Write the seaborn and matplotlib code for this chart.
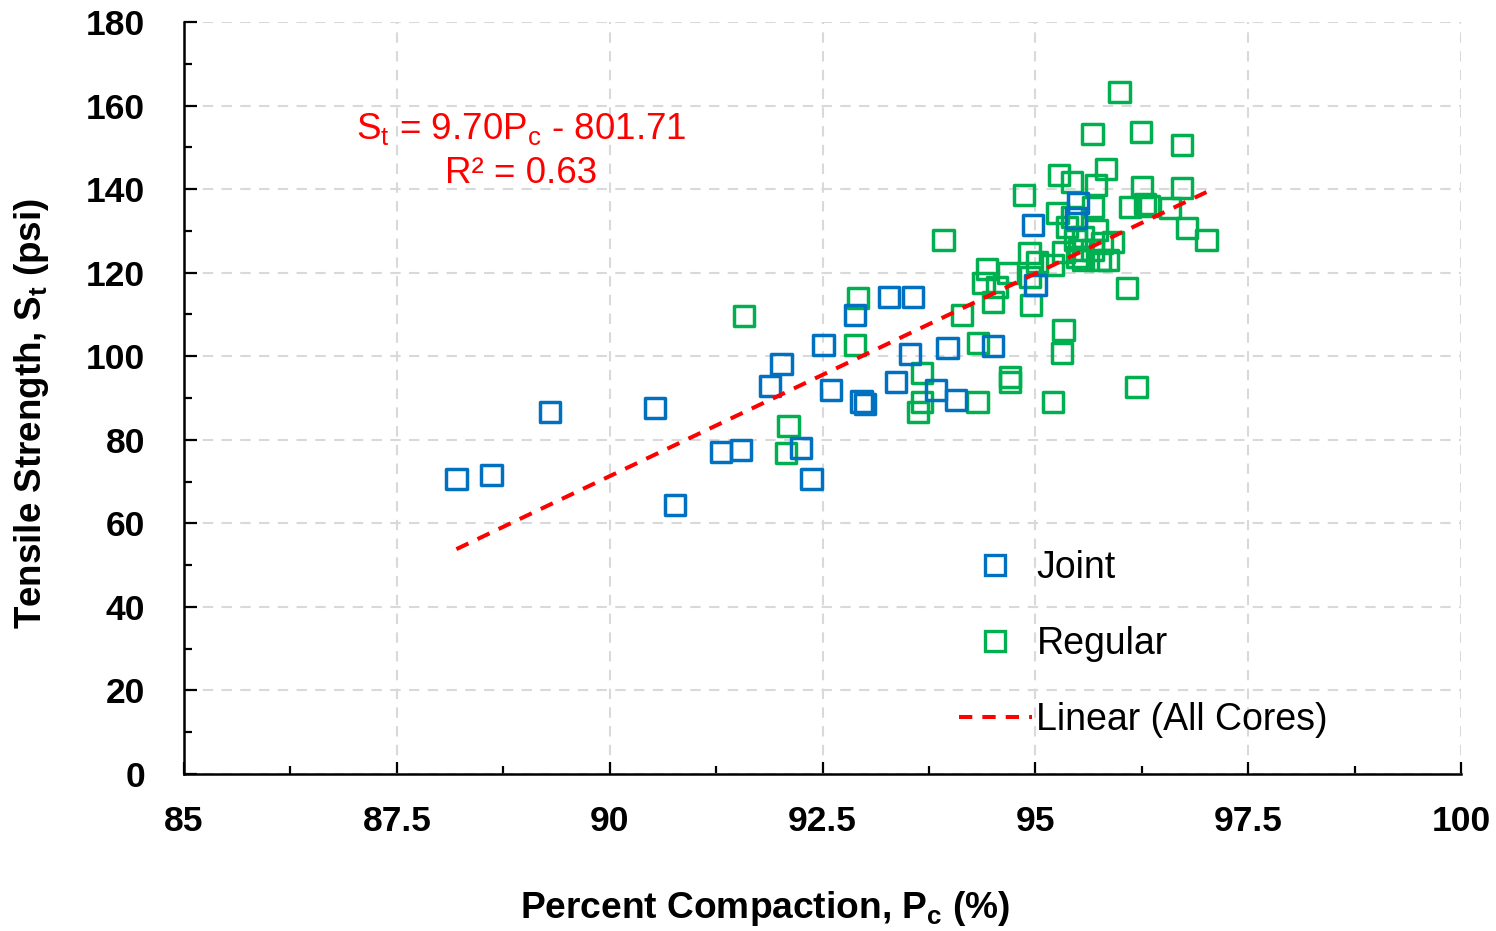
import numpy as np
import pandas as pd
import matplotlib
matplotlib.use("Agg")
import matplotlib.pyplot as plt
from matplotlib.lines import Line2D
from matplotlib.ticker import MultipleLocator
import seaborn as sns

# Joint cores: percent compaction (%) and tensile strength (psi)
joint_pc = [88.20, 88.61, 89.30, 90.53, 90.77, 91.31, 91.54, 91.88, 92.02, 92.25,
            92.37, 92.51, 92.60, 92.88, 92.96, 93.00, 93.28, 93.56, 93.36, 93.53,
            93.83, 93.97, 94.07, 94.50, 94.97, 95.00, 95.50, 95.48]
joint_st = [70.6, 71.6, 86.6, 87.6, 64.4, 77.1, 77.6, 92.9, 98.1, 78.0,
            70.6, 102.7, 91.9, 109.9, 89.2, 88.6, 114.2, 114.2, 93.8, 100.5,
            91.9, 102.0, 89.5, 102.4, 131.4, 117.0, 136.7, 133.1]

# Regular cores
regular_pc = [91.58, 92.10, 92.07, 92.92, 92.88, 93.67, 93.67, 93.62, 93.92, 94.14,
              94.32, 94.33, 94.70, 94.70, 94.43, 94.39, 94.55, 94.50, 94.68, 94.87,
              94.93, 95.02, 94.94, 94.95, 95.20, 95.21, 95.33, 95.31, 96.19, 96.08,
              95.28, 95.43, 95.83, 95.71, 95.67, 95.99, 96.24, 96.72, 96.25, 96.72,
              96.78, 97.01, 96.58, 96.11, 96.29, 95.26, 95.68, 95.43, 95.37, 95.72,
              95.47, 95.56, 95.78, 95.91, 95.33, 95.52, 95.67, 95.49, 95.56, 95.76,
              95.85, 96.33]
regular_st = [109.6, 83.3, 76.8, 113.9, 102.7, 96.0, 89.0, 86.6, 127.8, 109.9,
              89.0, 103.2, 95.0, 93.8, 120.9, 117.5, 116.6, 113.0, 119.9, 138.6,
              124.7, 122.5, 119.0, 112.3, 121.8, 89.0, 106.3, 100.8, 92.6, 116.3,
              143.4, 141.7, 144.8, 141.0, 153.2, 163.2, 153.7, 150.5, 140.5, 140.3,
              130.7, 127.8, 135.5, 135.7, 136.4, 134.3, 135.7, 133.3, 130.9, 130.2,
              127.8, 128.5, 127.1, 127.3, 124.9, 125.4, 125.4, 123.7, 123.0, 123.0,
              123.0, 136.0]

# Linear fit over all cores
slope = 9.70
intercept = -801.71
r_squared = 0.63

BLUE = "#0070C0"
GREEN = "#00B050"

sns.set_theme(style="white")
plt.rcParams["font.family"] = ["Liberation Sans", "DejaVu Sans"]
plt.rcParams["mathtext.fontset"] = "custom"
plt.rcParams["mathtext.rm"] = "Liberation Sans"
plt.rcParams["mathtext.bf"] = "Liberation Sans:bold"
plt.rcParams["text.color"] = "black"
plt.rcParams["axes.labelcolor"] = "black"
plt.rcParams["xtick.color"] = "black"
plt.rcParams["ytick.color"] = "black"

df = pd.concat([
    pd.DataFrame({"Pc": joint_pc, "St": joint_st, "Core": "Joint"}),
    pd.DataFrame({"Pc": regular_pc, "St": regular_st, "Core": "Regular"}),
], ignore_index=True)

fig = plt.figure(figsize=(14.96, 9.31), dpi=100)
ax = fig.add_axes([0.123, 0.1686, 0.8536, 0.8078])

for core, color in [("Regular", GREEN), ("Joint", BLUE)]:
    sub = df[df["Core"] == core]
    sns.scatterplot(data=sub, x="Pc", y="St", ax=ax, marker="s", s=215,
                    facecolors="none", edgecolor=color, linewidth=2.5,
                    legend=False, zorder=3)

all_pc = np.array(joint_pc + regular_pc)
fit_x = np.array([all_pc.min(), all_pc.max()])
fit_df = pd.DataFrame({"Pc": fit_x, "St": slope * fit_x + intercept})
sns.lineplot(data=fit_df, x="Pc", y="St", ax=ax, color="#FF0000",
             linewidth=2.9, dashes=False, zorder=4, legend=False)
ax.lines[-1].set_linestyle((0, (3.3, 2.5)))

ax.set_xlim(85, 100)
ax.set_ylim(0, 180)
ax.xaxis.set_minor_locator(MultipleLocator(1.25))
ax.yaxis.set_major_locator(MultipleLocator(20))
ax.yaxis.set_minor_locator(MultipleLocator(10))
ax.set_xticks(np.arange(85, 100.1, 2.5))
ax.set_xticklabels(["85", "87.5", "90", "92.5", "95", "97.5", "100"])

ax.grid(True, which="major", color="#D9D9D9", linestyle=(0, (5, 4)), linewidth=1.5)
ax.set_axisbelow(True)
for side in ["top", "right"]:
    ax.spines[side].set_visible(False)
for side in ["left", "bottom"]:
    ax.spines[side].set_color("black")
    ax.spines[side].set_linewidth(1.8)

ax.tick_params(axis="both", which="both", bottom=True, left=True, top=False, right=False)
ax.tick_params(axis="both", which="major", direction="in", length=9, width=1.6,
               color="black", labelsize=25.5)
ax.tick_params(axis="both", which="minor", direction="in", length=6, width=1.6,
               color="black")
ax.tick_params(axis="x", which="major", pad=22)
ax.tick_params(axis="y", which="major", pad=28)
for lbl in ax.get_xticklabels() + ax.get_yticklabels():
    lbl.set_fontweight("bold")

ax.set_xlabel(r"Percent Compaction, P$_\mathbf{c}$ (%)", fontsize=26.7,
              fontweight="bold")
ax.xaxis.set_label_coords(0.455, -0.153)
ax.set_ylabel(r"Tensile Strength, S$_\mathbf{t}$ (psi)", fontsize=26.5,
              fontweight="bold")
ax.yaxis.set_label_coords(-0.104, 0.479)

ax.text(0.264, 0.856, r"S$_\mathregular{t}$ = 9.70P$_\mathregular{c}$ - 801.71",
        transform=ax.transAxes, ha="center", va="center", color="#FF0000", fontsize=26.5)
ax.text(0.264, 0.799, "R² = 0.63", transform=ax.transAxes, ha="center",
        va="center", color="#FF0000", fontsize=26.5)

handles = [
    Line2D([], [], marker="s", linestyle="none", markersize=14,
           markerfacecolor="none", markeredgecolor=BLUE, markeredgewidth=2.4),
    Line2D([], [], marker="s", linestyle="none", markersize=14,
           markerfacecolor="none", markeredgecolor=GREEN, markeredgewidth=2.4),
    Line2D([], [], color="#FF0000", linestyle=(0, (3.3, 2.5)), linewidth=2.9),
]
ax.legend(handles, ["Joint", "Regular", "Linear (All Cores)"], loc="upper left",
          bbox_to_anchor=(0.595, 0.318), frameon=False, fontsize=27,
          handlelength=1.95, handletextpad=0.12, labelspacing=1.07,
          borderaxespad=0)

fig.savefig("out.png", dpi=100)
